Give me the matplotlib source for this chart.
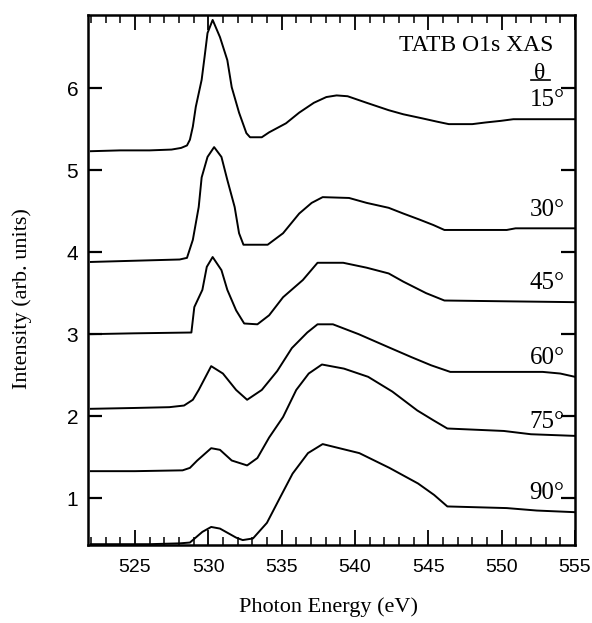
import numpy as np
import matplotlib
matplotlib.use("Agg")
import matplotlib.pyplot as plt
import matplotlib.transforms as mtransforms
from matplotlib.ticker import MultipleLocator

# O1s XAS spectra of TATB at several incidence angles (offset for clarity)
e15 = [522, 524, 526, 527.5, 528.15, 528.55, 528.75, 528.95, 529.15, 529.55, 529.75, 529.95, 530.3, 530.8,
       531.3, 531.6, 532.1, 532.6, 532.85, 533.65, 534.15, 535.3, 536.2, 537.2, 538.05, 538.75, 539.5,
       540.8, 542.3, 543.3, 544.6, 545.6, 546.4, 548.0, 548.9, 549.95, 550.8, 552.5, 553.5, 555]
i15 = [5.23, 5.24, 5.24, 5.25, 5.27, 5.30, 5.37, 5.53, 5.77, 6.10, 6.38, 6.67, 6.83, 6.62,
       6.34, 6.01, 5.70, 5.45, 5.40, 5.40, 5.46, 5.57, 5.70, 5.82, 5.89, 5.91, 5.90,
       5.82, 5.73, 5.68, 5.63, 5.59, 5.56, 5.56, 5.58, 5.60, 5.62, 5.62, 5.62, 5.62]

e30 = [522, 524, 526, 528.05, 528.55, 528.95, 529.35, 529.55, 529.95, 530.4, 530.9, 531.3, 531.8, 532.1,
       532.4, 534.05, 535.1, 536.2, 537.05, 537.8, 539.6, 540.8, 542.3, 543.3, 544.35, 545.35, 546.1,
       550.35, 550.95, 555]
i30 = [3.88, 3.89, 3.90, 3.91, 3.93, 4.15, 4.55, 4.91, 5.16, 5.28, 5.16, 4.88, 4.55, 4.23,
       4.09, 4.09, 4.23, 4.47, 4.60, 4.67, 4.66, 4.60, 4.54, 4.47, 4.40, 4.33, 4.27,
       4.27, 4.29, 4.29]

e45 = [522, 524.9, 528.85, 529.05, 529.6, 529.9, 530.3, 530.9, 531.3, 531.9, 532.45, 533.35, 534.15,
       535.1, 536.45, 537.45, 539.2, 540.8, 542.3, 543.3, 544.85, 546.1, 550.45, 555]
i45 = [3.00, 3.01, 3.02, 3.33, 3.54, 3.82, 3.94, 3.78, 3.54, 3.29, 3.13, 3.12, 3.23,
       3.45, 3.66, 3.87, 3.87, 3.81, 3.74, 3.64, 3.50, 3.41, 3.40, 3.39]

e60 = [522, 524.9, 527.35, 528.35, 528.95, 529.35, 530.2, 531.0, 531.9, 532.65, 533.65, 534.7, 535.7,
       536.75, 537.45, 538.5, 540.25, 542.3, 543.85, 545.2, 546.5, 552.8, 554.0, 555]
i60 = [2.09, 2.10, 2.11, 2.13, 2.20, 2.32, 2.61, 2.52, 2.32, 2.20, 2.32, 2.55, 2.83,
       3.02, 3.12, 3.12, 3.00, 2.84, 2.72, 2.62, 2.54, 2.54, 2.52, 2.48]

e75 = [522, 525, 528.25, 528.75, 529.25, 530.2, 530.8, 531.6, 532.65, 533.35, 534.15, 535.1, 536.0,
       536.85, 537.75, 539.25, 540.9, 542.55, 544.25, 545.35, 546.3, 550.15, 552.0, 555]
i75 = [1.33, 1.33, 1.34, 1.37, 1.46, 1.61, 1.59, 1.46, 1.40, 1.49, 1.74, 1.99, 2.32,
       2.52, 2.63, 2.58, 2.48, 2.30, 2.07, 1.95, 1.85, 1.82, 1.78, 1.76]

e90 = [522, 526, 528.05, 528.75, 529.6, 530.2, 530.8, 531.9, 532.35, 533.05, 534.0, 534.9, 535.75,
       536.8, 537.8, 540.3, 542.35, 544.3, 545.4, 546.3, 550.35, 552.4, 555]
i90 = [0.44, 0.44, 0.45, 0.46, 0.59, 0.65, 0.63, 0.52, 0.49, 0.51, 0.70, 1.01, 1.30,
       1.55, 1.66, 1.55, 1.37, 1.18, 1.04, 0.90, 0.88, 0.85, 0.83]

angles = ["15°", "30°", "45°", "60°", "75°", "90°"]
label_y = [5.85, 4.51, 3.62, 2.71, 1.93, 1.06]

SERIF = "Liberation Serif"
SANS = "Liberation Sans"

fig = plt.figure(figsize=(5.92, 6.23), dpi=100)
ax = fig.add_axes([0.1486, 0.1252, 0.8226, 0.8507])

for e, i in [(e15, i15), (e30, i30), (e45, i45), (e60, i60), (e75, i75), (e90, i90)]:
    ax.plot(e, i, color="black", lw=1.4)

ax.set_xlim(521.8, 555)
ax.set_ylim(0.43, 6.89)
ax.xaxis.set_major_locator(MultipleLocator(5))
ax.xaxis.set_minor_locator(MultipleLocator(1))
ax.set_yticks([1, 2, 3, 4, 5, 6])

ax.tick_params(axis="x", which="major", direction="in", length=11, width=1.3,
               top=True, pad=10, labelsize=14)
ax.tick_params(axis="x", which="minor", direction="in", length=6, width=1.1, top=True)
ax.tick_params(axis="y", which="major", direction="in", length=10, width=1.6,
               right=True, pad=7, labelsize=15)
for lab in ax.get_xticklabels() + ax.get_yticklabels():
    lab.set_family(SANS)
for s in ax.spines.values():
    s.set_linewidth(1.8)

# keep the last x tick label inside the figure
fig.canvas.draw()
last = ax.get_xticklabels()[-1]
last.set_transform(last.get_transform() + mtransforms.ScaledTranslation(-4 / 72, 0, fig.dpi_scale_trans))

# annotations
ax.text(553.5, 6.52, "TATB O1s XAS", family=SERIF, fontsize=17, ha="right", va="center")
ax.text(552.6, 6.18, "θ", family=SERIF, fontsize=17, ha="center", va="center")
ax.plot([0.91, 0.948], [0.877, 0.877], transform=ax.transAxes, color="black", lw=1.2)
for lab, y in zip(angles, label_y):
    ax.text(554.3, y, lab, family=SERIF, fontsize=18, ha="right", va="center")

fig.text(0.037, 0.52, "Intensity (arb. units)", family=SERIF, fontsize=16,
         rotation=90, ha="center", va="center")
fig.text(0.555, 0.026, "Photon Energy (eV)", family=SERIF, fontsize=16,
         ha="center", va="center")

fig.savefig("out.png", dpi=100)
